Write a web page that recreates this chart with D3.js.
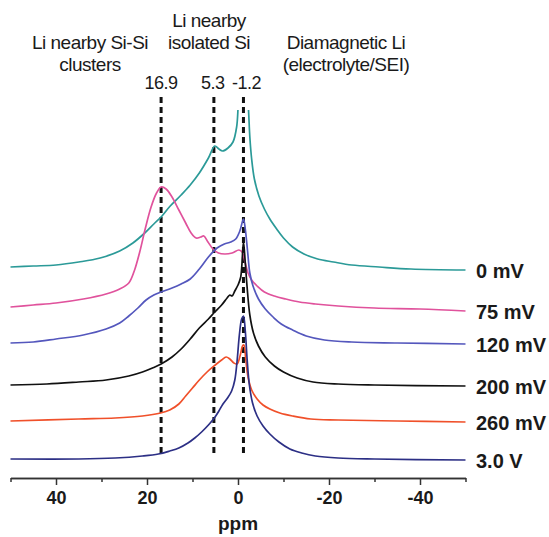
<!DOCTYPE html>
<html>
<head>
<meta charset="utf-8">
<script src="https://cdn.jsdelivr.net/npm/d3@7"></script>
<style>
    body { margin: 0; background: #fff; }
    svg { display: block; }
    .note { font-family: "Liberation Sans", Arial, sans-serif; font-size: 19px; letter-spacing: -0.5px; fill: #1a1a1a; }
    .lbl { font-family: "Liberation Sans", Arial, sans-serif; font-weight: bold; font-size: 20px; fill: #1a1a1a; }
    .axis text { font-family: "Liberation Sans", Arial, sans-serif; font-weight: bold; font-size: 18px; fill: #1a1a1a; }
    .axis path, .axis line { stroke: #333; stroke-width: 1.5px; }
</style>
</head>
<body>
<div id="vis"></div>
<script>
// spectra: [ppm, intensity (a.u.) above own baseline]
const trace0mV = [[50,0],[45,1],[40,2],[35,5],[30.3,9],[26,16],[23.1,24],[20.5,34],[18.5,43],[16.7,51],
    [14.9,61],[12.5,72],[10.5,82],[8.5,94],[6.5,109],[5.1,121],[4.2,118],[3.4,116],[2.2,119],[1.1,125],
    [0.3,140],[-0.1,165],[-1.1,215],[-2.2,165],[-2.6,130],[-3.0,108],[-3.6,88],[-4.6,71],[-5.8,58],
    [-7.0,48],[-8.5,38],[-10,29],[-12,20],[-14.5,13],[-17.5,8],[-21,5],[-25,2],[-31,0],[-38,-2],[-50,-3]];
const trace75mV = [[50,0],[45,2],[40,4],[34,8],[29,13],[26,18],[24,24],[22.8,36],[21.6,55],[20.4,78],
    [19.1,100],[17.9,114],[16.9,120],[15.8,118],[14.5,110],[13,97],[11.5,84],[10.3,74],[9.2,69],[8.2,70],
    [7.5,71],[6.6,65],[5.5,58],[4.3,54],[2.9,53],[1.3,54],[-0.2,57],[-0.9,55],[-1.6,44],[-2.2,34],
    [-3.0,27],[-4.2,21],[-5.8,15],[-8,11],[-10.5,8],[-13.5,5],[-17,3],[-22,1],[-30,-1],[-40,-2],[-50,-4]];
const trace120mV = [[50,0],[45,1],[40,4],[34,8],[29,14],[26,20],[24,27],[22,35],[20.2,43],[18.5,48],
    [16.9,51],[14.5,55],[12.5,59],[10.5,64],[8.5,74],[6.5,86],[4.6,95],[3,99],[1.6,101],[0.5,104],
    [-0.4,112],[-1.2,124],[-1.6,114],[-2.1,92],[-2.6,70],[-3.3,57],[-4.5,44],[-6,34],[-7.7,26],[-9.5,19],
    [-12,13],[-15,7],[-19,3],[-25,1],[-35,0],[-50,-1]];
const trace200mV = [[50,0],[42,1],[35,3],[29,5],[24,9],[21,13],[18.8,17],[16.9,21],[14.5,28],[12.5,36],
    [10.5,46],[8.5,57],[6.5,66],[5.1,73],[3.6,80],[2.4,87],[1.8,90],[1.3,89],[0.7,94],[0,100],[-0.6,108],
    [-1.2,143],[-1.6,122],[-2.0,98],[-2.6,70],[-3.4,52],[-4.5,39],[-6,28],[-8,19],[-10,13],[-13,7],
    [-16.5,3],[-22,1],[-30,0],[-50,-1]];
const trace260mV = [[50,0],[35,2],[27,3],[21,5],[17,8],[15,11],[13,17],[11.5,25],[10,33],[8.5,41],
    [6.8,49],[5,56],[3.6,61],[2.6,64],[1.8,62],[0.9,58],[0.2,57],[-0.5,66],[-1.0,75],[-1.3,76],
    [-1.7,62],[-2.2,44],[-3,31],[-4.2,22],[-5.5,16],[-7,12],[-9.2,8],[-12,5],[-16,2],[-22,1],[-35,0],[-50,-1]];
const trace3V = [[50,0],[35,0],[27,1],[21,3],[17.5,5],[15,8],[13,11],[11,16],[9.5,21],[8,27],[6.5,34],
    [5.2,41],[4.2,48],[3.3,55],[2.3,61],[1.4,68],[0.7,79],[0.2,98],[-0.3,124],[-0.8,140],[-1.2,143],
    [-1.6,128],[-2.0,100],[-2.5,74],[-3.2,56],[-4.2,43],[-5.5,33],[-7,25],[-9,17],[-11.4,10],[-14,6],
    [-17,3],[-22,1],[-30,0],[-50,-1]];

const seriesNames = ["0 mV", "75 mV", "120 mV", "200 mV", "260 mV", "3.0 V"];
const seriesData = [trace0mV, trace75mV, trace120mV, trace200mV, trace260mV, trace3V];
const seriesOffsets = [211, 171, 135, 93, 57, 19];

const peakPositions = [16.9, 5.3, -1.2];
const peakLabels = ["16.9", "5.3", "-1.2"];

const majorTicks = [40, 20, 0, -20, -40];
const minorTicks = [50, 30, 10, -10, -30, -50];

function init() {
    const width = 549, height = 537;
    const colors = ["#2b9a98", "#e0529c", "#5457bd", "#111111", "#f0502a", "#2c2f85"];

    const svg = d3.select('#vis')
        .append('svg')
        .attr('width', width)
        .attr('height', height);

    const xScale = d3.scaleLinear()
        .domain([50, -50])
        .range([10.5, 465.5]);
    const yScale = d3.scaleLinear()
        .domain([0, 400])
        .range([478, 78]);

    svg.append('defs').append('clipPath')
        .attr('id', 'plotClip')
        .append('rect')
        .attr('x', 0).attr('y', 110)
        .attr('width', width).attr('height', 370);

    // minor ticks first, major on top
    svg.append('g')
        .attr('class', 'axis')
        .attr('transform', `translate(0, ${yScale(0)})`)
        .call(d3.axisBottom(xScale).tickValues(minorTicks).tickSize(4).tickSizeOuter(0).tickFormat(''));
    svg.append('g')
        .attr('class', 'axis')
        .attr('transform', `translate(0, ${yScale(0)})`)
        .call(d3.axisBottom(xScale).tickValues(majorTicks).tickSize(7).tickSizeOuter(0).tickPadding(6)
            .tickFormat(d => String(d)));

    svg.append('text')
        .attr('class', 'lbl')
        .attr('x', xScale(0))
        .attr('y', 530)
        .attr('text-anchor', 'middle')
        .style('font-size', '19px')
        .text('ppm');

    // dashed reference lines
    svg.selectAll('.peakLine')
        .data(peakPositions)
        .join('line')
        .attr('class', 'peakLine')
        .attr('x1', d => xScale(d)).attr('x2', d => xScale(d))
        .attr('y1', 97).attr('y2', 457)
        .attr('stroke', '#111')
        .attr('stroke-width', 3)
        .attr('stroke-dasharray', '6,4');

    const labelShift = [0, -1, 3];
    svg.selectAll('.peakLabel')
        .data(peakLabels)
        .join('text')
        .attr('class', 'note')
        .attr('x', (d, i) => xScale(peakPositions[i]) + labelShift[i])
        .attr('y', 83)
        .attr('text-anchor', 'middle')
        .attr('dominant-baseline', 'central')
        .style('font-size', '18px')
        .text(d => d);

    // spectra
    const plot = svg.append('g').attr('clip-path', 'url(#plotClip)');
    seriesData.forEach((trace, i) => {
        const line = d3.line()
            .x(d => xScale(d[0]))
            .y(d => yScale(d[1] + seriesOffsets[i]))
            .curve(d3.curveCatmullRom.alpha(0.5));
        plot.append('path')
            .datum(trace)
            .attr('d', line)
            .attr('fill', 'none')
            .attr('stroke', colors[i])
            .attr('stroke-width', 1.7)
            .attr('stroke-linejoin', 'round');
    });

    svg.selectAll('.seriesLabel')
        .data(seriesNames)
        .join('text')
        .attr('class', 'lbl')
        .attr('x', 476)
        .attr('y', (d, i) => yScale(seriesOffsets[i] + seriesData[i][seriesData[i].length - 1][1]) + 1)
        .attr('dominant-baseline', 'central')
        .text(d => d);

    // region notes at top
    function addNote(lines, cx, cy) {
        lines.forEach((t, k) => {
            svg.append('text')
                .attr('class', 'note')
                .attr('x', cx)
                .attr('y', cy + k * 22)
                .attr('text-anchor', 'middle')
                .attr('dominant-baseline', 'central')
                .text(t);
        });
    }
    addNote(["Li nearby Si-Si", "clusters"], 90, 42);
    addNote(["Li nearby", "isolated Si"], 209, 20);
    addNote(["Diamagnetic Li", "(electrolyte/SEI)"], 346, 42);
}

window.addEventListener('load', init);
</script>
</body>
</html>
